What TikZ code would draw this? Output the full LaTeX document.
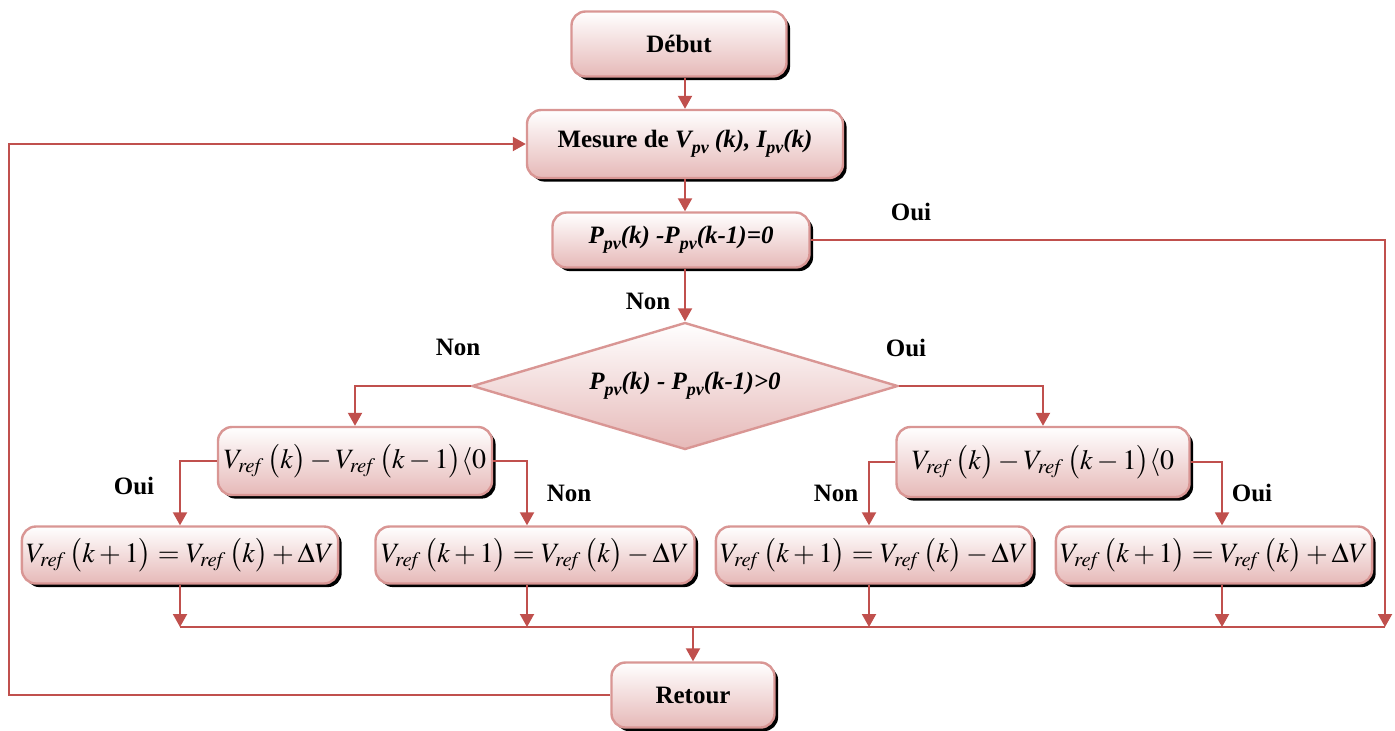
\documentclass[tikz,border=0pt]{standalone}
\usepackage{mathptmx}
\usepackage{fontspec}
\setmainfont{Liberation Serif}
\usetikzlibrary{arrows.meta,shapes.geometric,shadows}
\definecolor{flowline}{HTML}{C0504D}
\definecolor{boxedge}{HTML}{D99694}
\definecolor{boxfill}{HTML}{E6B9B8}
\newcommand\lowsub[1]{\raisebox{-0.5ex}{\fontsize{9}{9}\selectfont #1}}
\newcommand\Vr{V_{\mathit{ref}}}
\begin{document}
\begin{tikzpicture}[x=0.5pt,y=-0.5pt,
  box/.style={draw=boxedge,line width=1.2pt,rounded corners=7pt,top color=white,bottom color=boxfill,
    drop shadow={shadow xshift=1.8pt,shadow yshift=-1.8pt,fill=black,opacity=1},inner sep=2pt},
  titlebox/.style={box,font=\fontsize{12.5}{15}\selectfont\bfseries},
  eqbox/.style={box,font=\fontsize{14}{17}\selectfont,minimum height=28.5pt},
  testbox/.style={diamond,draw=boxedge,line width=1.2pt,top color=white,bottom color=boxfill,
    shape aspect=3.35,minimum width=213pt,minimum height=63.5pt,inner sep=0pt,font=\fontsize{12.5}{15}\selectfont\bfseries\itshape},
  flow/.style={draw=flowline,line width=1pt,-{Triangle[width=7pt,length=6.5pt]}},
  seg/.style={draw=flowline,line width=1pt},
  lbl/.style={font=\fontsize{12.5}{15}\selectfont\bfseries}]
\useasboundingbox (0,0) rectangle (1395,730);

% boxes
\node[titlebox,minimum width=107.5pt,minimum height=32.5pt] (debut) at (679,44) {Début};
\node[titlebox,minimum width=158pt,minimum height=34pt] (mesure) at (685,144)
  {Mesure de \textit{V\lowsub{pv} (k), I\lowsub{pv}(k)}};
\node[titlebox,minimum width=128.5pt,minimum height=27.5pt] (pzero) at (681,240)
  {\itshape P\lowsub{pv}(k) -P\lowsub{pv}(k-1)=0};
\node[testbox] (ptest) at (685,386) {P\lowsub{pv}(k) - P\lowsub{pv}(k-1)>0};

\node[eqbox,minimum width=137pt,minimum height=34pt] (decl) at (355,461)
  {$\Vr\,\bigl(k\bigr)-\Vr\,\bigl(k-1\bigr)\langle 0$};
\node[eqbox,minimum width=146.5pt,minimum height=35pt] (decr) at (1043,462)
  {$\Vr\,\bigl(k\bigr)-\Vr\,\bigl(k-1\bigr)\langle 0$};

\node[eqbox,minimum width=155pt] (inc1) at (180,555) {$\Vr\,\bigl(k+1\bigr)=\Vr\,\bigl(k\bigr)+\Delta V$};
\node[eqbox,minimum width=159.5pt] (dec1) at (535,555) {$\Vr\,\bigl(k+1\bigr)=\Vr\,\bigl(k\bigr)-\Delta V$};
\node[eqbox,minimum width=156pt] (dec2) at (874,555) {$\Vr\,\bigl(k+1\bigr)=\Vr\,\bigl(k\bigr)-\Delta V$};
\node[eqbox,minimum width=152.5pt] (inc2) at (1214,555) {$\Vr\,\bigl(k+1\bigr)=\Vr\,\bigl(k\bigr)+\Delta V$};

\node[titlebox,minimum width=81.5pt,minimum height=32.5pt] (retour) at (693,695) {Retour};

% labels
\node[lbl] (l1) at (911,212) {Oui};
\node[lbl] (l2) at (648,301) {Non};
\node[lbl] (l3) at (458,347) {Non};
\node[lbl] (l4) at (906,348) {Oui};
\node[lbl] (l5) at (134,486) {Oui};
\node[lbl] (l6) at (569,493) {Non};
\node[lbl] (l7) at (836,493) {Non};
\node[lbl] (l8) at (1252,493) {Oui};

% connectors
\coordinate (c1) at (180,627);
\coordinate (c2) at (527,627);
\coordinate (c3) at (869,627);
\coordinate (c4) at (1222,627);
\coordinate (busR) at (1385,627);
\coordinate (loop) at (9,400);

\draw[flow] (debut.south -| mesure.north) -- (mesure.north);
\draw[flow] (mesure.south) -- (mesure.south |- pzero.north);
\draw[flow] (mesure.south |- pzero.south) -- (ptest.north);
\draw[flow] (ptest.west) -| (decl.north);
\draw[flow] (ptest.east) -| (decr.north);
\draw[flow] (decl.west) -| (inc1.north);
\draw[flow] (decl.east) -| (c2 |- dec1.north);
\draw[flow] (decr.west) -| (c3 |- dec2.north);
\draw[flow] (decr.east) -| (c4 |- inc2.north);
\draw[flow] (inc1.south) -- (c1);
\draw[flow] (c2 |- dec1.south) -- (c2);
\draw[flow] (c3 |- dec2.south) -- (c3);
\draw[flow] (c4 |- inc2.south) -- (c4);
\draw[seg] (c1) -- (busR);
\draw[flow] (pzero.east) -| (busR);
\draw[flow] (retour.north |- c1) -- (retour.north);
\draw[flow] (retour.west) -| (loop) |- (mesure.west);
\end{tikzpicture}
\end{document}
